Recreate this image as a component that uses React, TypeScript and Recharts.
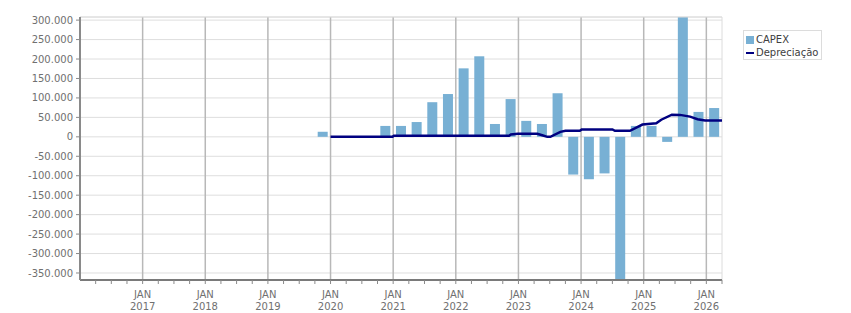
import {
  ComposedChart, Bar, Line, XAxis, YAxis, CartesianGrid, ReferenceLine, Legend,
} from 'recharts';

// quarterly CAPEX, x = middle of the quarter (fractional year)
const CAPEX_T = [
  2019.875, 2020.875, 2021.125, 2021.375, 2021.625, 2021.875, 2022.125, 2022.375,
  2022.625, 2022.875, 2023.125, 2023.375, 2023.625, 2023.875, 2024.125, 2024.375,
  2024.625, 2024.875, 2025.125, 2025.375, 2025.625, 2025.875, 2026.125,
];
const CAPEX = [
  13000, 28000, 28000, 38000, 89000, 110000, 176000, 207000,
  33000, 97000, 41000, 33000, 112000, -97000, -109000, -94000,
  -380000, 28000, 28000, -13000, 320000, 64000, 74000,
];

// depreciation line, read at its corners
const DEP_T = [
  2020.0, 2020.99, 2021.01, 2022.85, 2022.88, 2022.99, 2023.3, 2023.38, 2023.46, 2023.51,
  2023.67, 2023.75, 2023.98, 2024.01, 2024.5, 2024.54, 2024.78, 2024.98, 2025.2, 2025.28,
  2025.45, 2025.58, 2025.74, 2025.86, 2025.98, 2026.25,
];
const DEP = [
  0, 0, 2600, 2600, 6000, 8000, 8000, 4000, 0, 0,
  12800, 15400, 15400, 18800, 18800, 15400, 15400, 31500, 35000, 44000,
  57000, 56400, 52000, 45400, 41800, 41800,
];

const YEARS = [2017, 2018, 2019, 2020, 2021, 2022, 2023, 2024, 2025, 2026];
const Y_TICKS = [
  -350000, -300000, -250000, -200000, -150000, -100000, -50000, 0,
  50000, 100000, 150000, 200000, 250000, 300000,
];

const X_MIN = 2016;
const X_MAX = 2026.25;
const Y_MIN = -368000;
const Y_MAX = 308000;

const BAR_COLOR = '#78b0d4';
const LINE_COLOR = '#000080';
const FONT = '"DejaVu Sans", Verdana, sans-serif';
const TICK_COLOR = '#707070';

const X_TICKS: number[] = [];
for (let i = 1; i <= 41; i++) X_TICKS.push(X_MIN + i * 0.25);

const rows: { t: number; capex?: number; dep?: number }[] = [
  ...CAPEX_T.map((t, i) => ({ t, capex: CAPEX[i] })),
  ...DEP_T.map((t, i) => ({ t, dep: DEP[i] })),
].sort((a, b) => a.t - b.t);

const fmtY = (v: number) => {
  if (v === 0) return '0';
  const s = String(Math.abs(v)).replace(/\B(?=(\d{3})+(?!\d))/g, '.');
  return (v < 0 ? '-' : '') + s;
};

const XTick = ({ x, y, payload }: any) => {
  const v = payload.value;
  if (Math.abs(v - Math.round(v)) > 1e-6) return null;
  return (
    <text x={x} y={y} textAnchor="middle" fill={TICK_COLOR} fontSize={10} fontFamily={FONT}>
      <tspan x={x} dy={11.5}>JAN</tspan>
      <tspan x={x} dy={12.5}>{Math.round(v)}</tspan>
    </text>
  );
};

const CapexShape = (p: any) => {
  if (p.payload?.capex == null) return null;
  const cx = p.x + p.width / 2;
  const top = Math.min(p.y, p.y + p.height);
  return <rect x={cx - 5} y={top} width={10} height={Math.abs(p.height)} fill={BAR_COLOR} />;
};

const LegendBox = ({ payload }: any) => (
  <div style={{
    border: '1px solid #dcdcdc', background: '#fff', padding: '2px 3px 0 2px',
    fontFamily: FONT, fontSize: 10, color: '#404040', whiteSpace: 'nowrap',
  }}>
    {(payload || []).map((e: any) => (
      <div key={e.value} style={{ display: 'flex', alignItems: 'center', height: 13 }}>
        {e.type === 'line'
          ? <span style={{ display: 'inline-block', width: 8, height: 2, background: LINE_COLOR, marginRight: 2 }} />
          : <span style={{ display: 'inline-block', width: 8, height: 8, background: BAR_COLOR, marginRight: 2 }} />}
        {e.value}
      </div>
    ))}
  </div>
);

export default function App() {
  return (
    <div style={{ position: 'absolute', left: 0, top: 0, width: 851, height: 313, background: '#fff' }}>
      <ComposedChart width={851} height={313} data={rows}
                     margin={{ top: 17, right: 129, left: 0, bottom: 0 }}>
        <CartesianGrid vertical={false} stroke="#dedede" />
        {YEARS.map((yr) => (
          <ReferenceLine key={yr} x={yr} stroke="#b8b8b8" strokeWidth={1.5} />
        ))}
        <ReferenceLine y={Y_MAX} stroke="#dcdcdc" />
        <ReferenceLine x={X_MAX} stroke="#dcdcdc" />
        <XAxis dataKey="t" type="number" domain={[X_MIN, X_MAX]} allowDataOverflow
               ticks={X_TICKS} interval={0} height={33} tick={<XTick />}
               axisLine={{ stroke: '#7a7a7a', strokeWidth: 2 }}
               tickLine={{ stroke: '#8a8a8a' }} tickSize={4} />
        <YAxis type="number" domain={[Y_MIN, Y_MAX]} allowDataOverflow ticks={Y_TICKS}
               interval={0} width={80} tickFormatter={fmtY} tickSize={4} tickMargin={3}
               tick={{ fill: TICK_COLOR, fontSize: 10, fontFamily: FONT }}
               axisLine={{ stroke: '#8a8a8a', strokeWidth: 2 }}
               tickLine={{ stroke: '#8a8a8a' }} />
        <Legend layout="vertical" align="center" verticalAlign="middle"
                content={<LegendBox />}
                wrapperStyle={{ left: 743, top: 30, width: 'auto' }} />
        <Bar dataKey="capex" name="CAPEX" fill={BAR_COLOR} barSize={10}
             shape={<CapexShape />} isAnimationActive={false} />
        <Line dataKey="dep" name="Depreciação" type="linear" stroke={LINE_COLOR}
              strokeWidth={2.5} dot={false} activeDot={false} connectNulls
              legendType="line" isAnimationActive={false} />
      </ComposedChart>
    </div>
  );
}
